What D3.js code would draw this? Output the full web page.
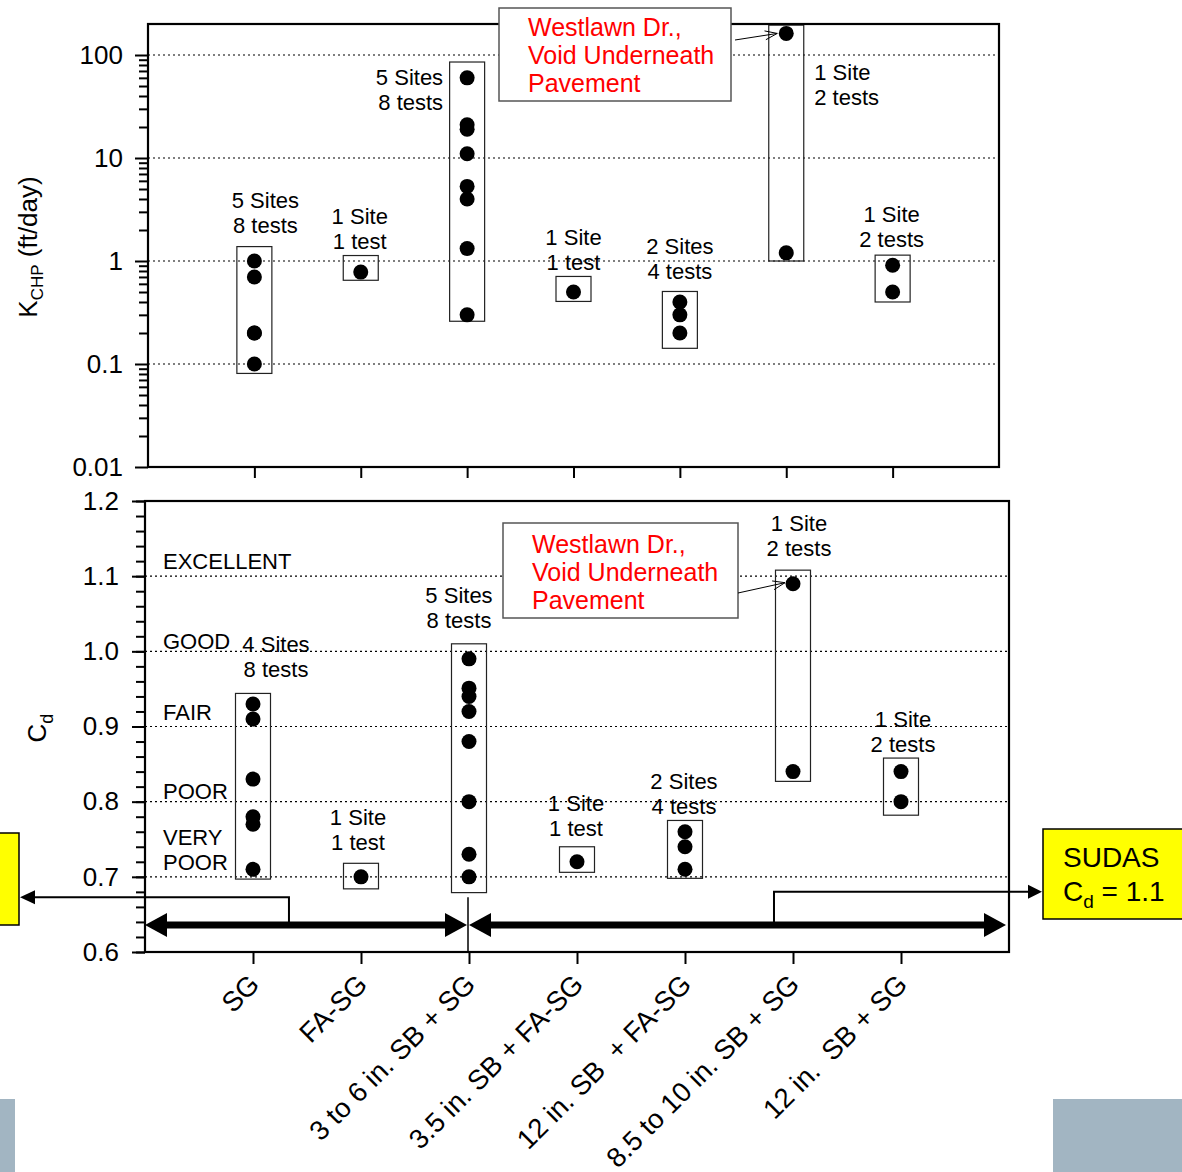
<!DOCTYPE html>
<html lang="en">
<head>
<meta charset="UTF-8">
<title>KCHP and Cd by section type</title>
<style>
html,body{margin:0; width:100vw; height:100vh; overflow:hidden; background:#fff;}
svg{width:100%; height:100%; display:block;}
text{font-family:"Liberation Sans", Arial, Helvetica, sans-serif; white-space:pre;}
</style>
</head>
<body>
<svg></svg>
<script src="https://d3js.org/d3.v7.min.js"></script>
<script>
// categories along the x axis (shared by both panels)
const categories = ["SG", "FA-SG", "3 to 6 in. SB + SG", "3.5 in. SB + FA-SG",
  "12 in. SB  + FA-SG", "8.5 to 10 in. SB + SG", "12 in.  SB + SG"];

// upper panel: K_CHP (ft/day), log scale
const kchpValues = [
  [1.0, 0.7, 0.2, 0.2, 0.1],
  [0.78],
  [60, 21, 19, 11, 5.3, 4.0, 1.32, 0.30],
  [0.5],
  [0.4, 0.3, 0.2],
  [162, 1.2],
  [0.91, 0.5]
];
const kchpBoxLo = [0.081, 0.65, 0.26, 0.405, 0.142, 1.0, 0.40];
const kchpBoxHi = [1.38, 1.13, 85.5, 0.708, 0.506, 195, 1.14];
const kchpNotes = [["5 Sites","8 tests"],["1 Site","1 test"],["5 Sites","8 tests"],["1 Site","1 test"],
  ["2 Sites","4 tests"],["1 Site","2 tests"],["1 Site","2 tests"]];
const kchpTicks = [0.01, 0.1, 1, 10, 100];
const kchpGrid = [0.1, 1, 10, 100];

// lower panel: Cd
const cdValues = [
  [0.93, 0.91, 0.83, 0.78, 0.77, 0.71],
  [0.70],
  [0.99, 0.951, 0.94, 0.92, 0.88, 0.80, 0.73, 0.70],
  [0.72],
  [0.76, 0.74, 0.71],
  [1.09, 0.84],
  [0.84, 0.80]
];
const cdBoxLo = [0.697, 0.684, 0.679, 0.706, 0.698, 0.827, 0.782];
const cdBoxHi = [0.944, 0.718, 1.010, 0.740, 0.775, 1.108, 0.858];
const cdNotes = [["4 Sites","8 tests"],["1 Site","1 test"],["5 Sites","8 tests"],["1 Site","1 test"],
  ["2 Sites","4 tests"],["1 Site","2 tests"],["1 Site","2 tests"]];
const cdTicks = [0.6, 0.7, 0.8, 0.9, 1.0, 1.1, 1.2];
const cdGrid = [0.7, 0.8, 0.9, 1.0, 1.1];
const ratingNames = [["EXCELLENT"],["GOOD"],["FAIR"],["POOR"],["VERY","POOR"]];
const ratingLevels = [1.1, 1.0, 0.9, 0.8, 0.7];

const svg = d3.select("svg");

// note placement: [dx from category, dy of 2nd line from box top, anchor]
const kchpNoteLayout = [[11,-21,"middle"],[-1,-14,"middle"],[-24,40,"end"],[0,-14,"middle"],
  [0,-20,"middle"],[28,72,"start"],[-1,-16,"middle"]];
const cdNoteLayout = [[23,-24,"middle"],[-3,-21,"middle"],[-10,-24,"middle"],[-1,-18,"middle"],
  [-1,-14,"middle"],[6,-22,"middle"],[2,-14,"middle"]];
const ratingOffset = [-15, -10, -14, -10, -15];

const xK = d3.scaleLinear().domain([0, 8]).range([148, 999]);
const yK = d3.scaleLog().domain([0.01, 200]).range([467, 24]);
const xC = d3.scaleLinear().domain([0, 8]).range([145, 1009]);
const yC = d3.scaleLinear().domain([0.6, 1.2]).range([952, 501]);
const idx = categories.map((c, i) => i + 1);

function twoLines(g, x, y2, lines, anchor, fs, lh, color){
  const t = g.append("text").attr("text-anchor", anchor).attr("font-size", fs).attr("fill", color || "#000");
  lines.forEach((l, i) => t.append("tspan").attr("x", x)
    .attr("y", y2 - (lines.length - 1 - i) * lh + fs * 0.35).text(l));
  return t;
}

function panel(x, y, values, lo, hi, notes, layout, grid){
  const g = svg.append("g");
  g.selectAll("line.grid").data(grid).join("line")
    .attr("x1", x.range()[0]).attr("x2", x.range()[1])
    .attr("y1", d => y(d)).attr("y2", d => y(d))
    .attr("stroke", "#000").attr("stroke-width", 1.1).attr("stroke-dasharray", "2,3");
  g.selectAll("rect.box").data(idx).join("rect")
    .attr("x", d => x(d) - 17.5).attr("width", 35)
    .attr("y", (d, i) => y(hi[i])).attr("height", (d, i) => y(lo[i]) - y(hi[i]))
    .attr("fill", "none").attr("stroke", "#222").attr("stroke-width", 1.2);
  values.forEach((vals, i) => {
    g.selectAll(null).data(vals).join("circle")
      .attr("cx", x(i + 1)).attr("cy", d => y(d)).attr("r", 7.5).attr("fill", "#000");
  });
  notes.forEach((n, i) => {
    const [dx, dy, anchor] = layout[i];
    twoLines(g, x(i + 1) + dx, y(hi[i]) + dy, n, anchor, 22, 25);
  });
  return g;
}

// ---------- upper panel ----------
panel(xK, yK, kchpValues, kchpBoxLo, kchpBoxHi, kchpNotes, kchpNoteLayout, kchpGrid);

const minorK = [];
for (let e = -2; e <= 2; e++) for (let m = 2; m <= 9; m++) { const v = m * 10 ** e; if (v < 200) minorK.push(v); }
const kMinorAxis = svg.append("g").attr("transform", `translate(${xK(0)},0)`)
  .call(d3.axisLeft(yK).tickValues(minorK).tickSize(9).tickFormat(""));
const kAxis = svg.append("g").attr("transform", `translate(${xK(0)},0)`)
  .call(d3.axisLeft(yK).tickValues(kchpTicks).tickSize(13).tickPadding(12).tickFormat(d => String(d)));
const kxAxis = svg.append("g").attr("transform", `translate(0,${yK.range()[0]})`)
  .call(d3.axisBottom(xK).tickValues(idx).tickSize(11).tickFormat(""));
[kMinorAxis, kAxis, kxAxis].forEach(a => {
  a.select(".domain").remove();
  a.selectAll("line").attr("stroke-width", 2);
  a.selectAll("text").attr("font-size", 26).attr("font-family", null).attr("fill", "#000");
});
svg.append("rect").attr("x", xK(0)).attr("y", yK.range()[1])
  .attr("width", xK(8) - xK(0)).attr("height", yK.range()[0] - yK.range()[1])
  .attr("fill", "none").attr("stroke", "#000").attr("stroke-width", 2.2);

const kTitle = svg.append("text").attr("transform", "translate(37,247) rotate(-90)")
  .attr("text-anchor", "middle").attr("font-size", 26);
kTitle.append("tspan").text("K");
kTitle.append("tspan").attr("font-size", 17).attr("dy", 6).text("CHP");
kTitle.append("tspan").attr("dy", -6).text(" (ft/day)");

// ---------- lower panel ----------
panel(xC, yC, cdValues, cdBoxLo, cdBoxHi, cdNotes, cdNoteLayout, cdGrid);

const minorC = d3.range(0.6, 1.2001, 0.02);
const cMinorAxis = svg.append("g").attr("transform", `translate(${xC(0)},0)`)
  .call(d3.axisLeft(yC).tickValues(minorC).tickSize(9).tickFormat(""));
const cAxis = svg.append("g").attr("transform", `translate(${xC(0)},0)`)
  .call(d3.axisLeft(yC).tickValues(cdTicks).tickSize(13).tickPadding(13).tickFormat(d3.format(".1f")));
const cxAxis = svg.append("g").attr("transform", `translate(0,${yC.range()[0]})`)
  .call(d3.axisBottom(xC).tickValues(idx).tickSize(12).tickFormat(""));
[cMinorAxis, cAxis, cxAxis].forEach(a => {
  a.select(".domain").remove();
  a.selectAll("line").attr("stroke-width", 2);
  a.selectAll("text").attr("font-size", 26).attr("font-family", null).attr("fill", "#000");
});

svg.append("g").selectAll("text").data(categories).join("text")
  .attr("transform", (d, i) => `translate(${xC(i + 1) + 8},986) rotate(-45)`)
  .attr("text-anchor", "end").attr("font-size", 27.5).text(d => d);

ratingNames.forEach((r, i) => {
  twoLines(svg, 163, yC(ratingLevels[i]) + ratingOffset[i], r, "start", 22, 25);
});

const cTitle = svg.append("text").attr("transform", "translate(46,728) rotate(-90)")
  .attr("text-anchor", "middle").attr("font-size", 26);
cTitle.append("tspan").text("C");
cTitle.append("tspan").attr("font-size", 18).attr("dy", 7).text("d");

// thick double-headed arrows under the data
const arrowY = yC(0.636);
function thickArrow(x1, x2, y){
  svg.append("line").attr("x1", x1 + 15).attr("x2", x2 - 15).attr("y1", y).attr("y2", y)
    .attr("stroke", "#000").attr("stroke-width", 7);
  svg.append("path").attr("d", `M${x1},${y}L${x1 + 22},${y - 12}L${x1 + 22},${y + 12}Z`).attr("fill", "#000");
  svg.append("path").attr("d", `M${x2},${y}L${x2 - 22},${y - 12}L${x2 - 22},${y + 12}Z`).attr("fill", "#000");
}
thickArrow(xC(0), xC(3) - 2, arrowY);
thickArrow(xC(3) + 0, xC(8) - 3, arrowY);
svg.append("line").attr("x1", xC(3) - 1).attr("x2", xC(3) - 1).attr("y1", yC(0.673)).attr("y2", yC(0.6))
  .attr("stroke", "#000").attr("stroke-width", 1.5);

// brackets to the side boxes
svg.append("path").attr("d", `M${xC(1.333)},${arrowY}V${yC(0.673)}H35`)
  .attr("fill", "none").attr("stroke", "#000").attr("stroke-width", 2);
svg.append("path").attr("d", `M20,${yC(0.673)}L35,${yC(0.673) - 7}L35,${yC(0.673) + 7}Z`).attr("fill", "#000");
svg.append("path").attr("d", `M${xC(5.824)},${arrowY}V${yC(0.68)}H1028`)
  .attr("fill", "none").attr("stroke", "#000").attr("stroke-width", 2);
svg.append("path").attr("d", `M1042,${yC(0.68)}L1028,${yC(0.68) - 7}L1028,${yC(0.68) + 7}Z`).attr("fill", "#000");

svg.append("rect").attr("x", xC(0)).attr("y", yC.range()[1])
  .attr("width", xC(8) - xC(0)).attr("height", yC.range()[0] - yC.range()[1])
  .attr("fill", "none").attr("stroke", "#000").attr("stroke-width", 2.2);

// yellow side boxes
svg.append("rect").attr("x", -2).attr("y", 833).attr("width", 21).attr("height", 92)
  .attr("fill", "#ffff00").attr("stroke", "#000").attr("stroke-width", 1.5);
svg.append("rect").attr("x", 1043).attr("y", 829).attr("width", 145).attr("height", 90)
  .attr("fill", "#ffff00").attr("stroke", "#000").attr("stroke-width", 1.5);
svg.append("text").attr("x", 1063).attr("y", 857 + 10).attr("font-size", 28).text("SUDAS");
const sudas = svg.append("text").attr("x", 1063).attr("y", 891 + 10).attr("font-size", 28);
sudas.append("tspan").text("C");
sudas.append("tspan").attr("font-size", 19).attr("dy", 7).text("d");
sudas.append("tspan").attr("dy", -7).text(" = 1.1");

// red callouts
function callout(bx, by, bw, bh, tx, ty, ax1, ay1, ax2, ay2){
  svg.append("rect").attr("x", bx).attr("y", by).attr("width", bw).attr("height", bh)
    .attr("fill", "#fff").attr("stroke", "#555").attr("stroke-width", 1.5);
  twoLines(svg, tx, ty, ["Westlawn Dr.,", "Void Underneath", "Pavement"], "start", 25, 28, "#ff0000");
  svg.append("line").attr("x1", ax1).attr("y1", ay1).attr("x2", ax2).attr("y2", ay2)
    .attr("stroke", "#000").attr("stroke-width", 1);
  const a = Math.atan2(ay2 - ay1, ax2 - ax1);
  [0.35, -0.35].forEach(o => svg.append("line").attr("x1", ax2).attr("y1", ay2)
    .attr("x2", ax2 - 13 * Math.cos(a + o)).attr("y2", ay2 - 13 * Math.sin(a + o))
    .attr("stroke", "#000").attr("stroke-width", 1));
}
callout(499, 8, 232, 93, 528, 83, 735, 40, xK(6) - 9, yK(162));
callout(503, 523, 235, 95, 532, 600, 738, 593, xC(6) - 8, yC(1.09) - 1);

// slide decoration blocks
svg.append("rect").attr("x", 0).attr("y", 1099).attr("width", 15).attr("height", 80).attr("fill", "#a2b5c2");
svg.append("rect").attr("x", 1053).attr("y", 1099).attr("width", 135).attr("height", 80).attr("fill", "#a2b5c2");
</script>
</body>
</html>
